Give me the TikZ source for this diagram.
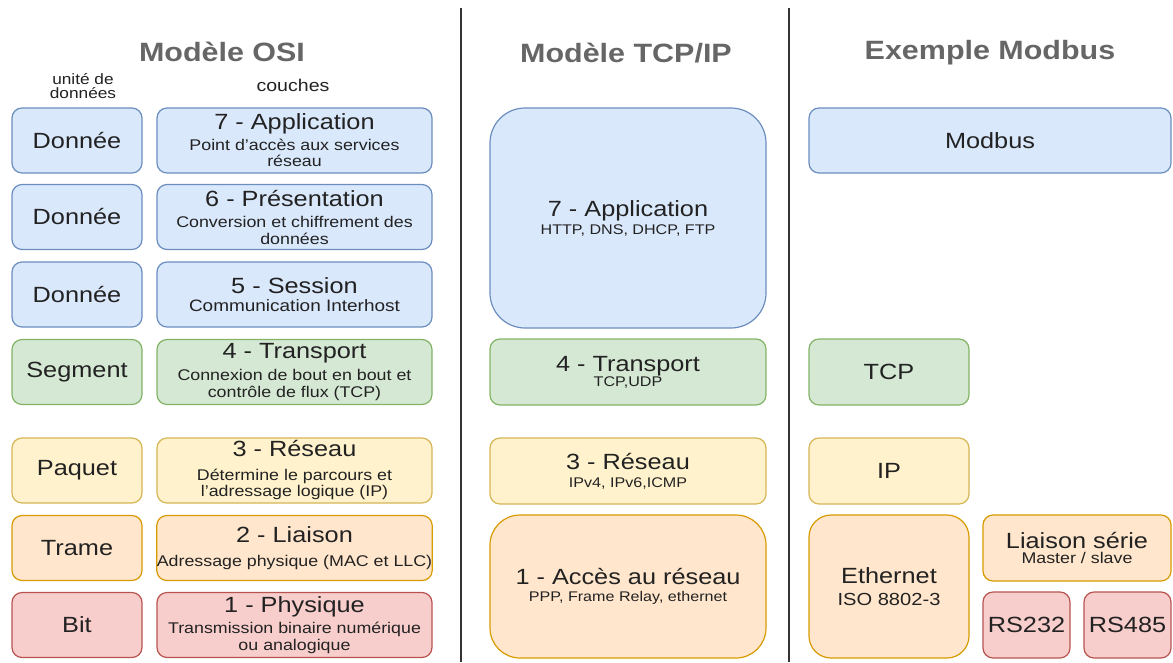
\documentclass[tikz,border=0pt]{standalone}
\usepackage{fontspec}
\setmainfont{Liberation Sans}[FakeStretch=1.15]
\definecolor{bfill}{HTML}{DAE8FC}\definecolor{bline}{HTML}{6C8EBF}
\definecolor{gfill}{HTML}{D5E8D4}\definecolor{gline}{HTML}{82B366}
\definecolor{yfill}{HTML}{FFF2CC}\definecolor{yline}{HTML}{D6B656}
\definecolor{ofill}{HTML}{FFE6CC}\definecolor{oline}{HTML}{D79B00}
\definecolor{rfill}{HTML}{F8CECC}\definecolor{rline}{HTML}{B85450}
\definecolor{txt}{HTML}{222222}\definecolor{ttl}{HTML}{666666}
\definecolor{sep}{HTML}{333333}
\newcommand\mainsz{\fontsize{22}{26}\selectfont}
\newcommand\subsz{\fontsize{15.5}{16.5}\selectfont}
\newcommand\sesssz{\fontsize{16.5}{17}\selectfont}
\newcommand\tcpsz{\fontsize{14}{16}\selectfont}
\newcommand\isosz{\fontsize{17.5}{20}\selectfont}
\newcommand\ttlsz{\fontsize{26.5}{30}\selectfont\bfseries}
\newcommand\smallsz{\fontsize{15}{14.5}\selectfont}
\newcommand\couchsz{\fontsize{17}{18}\selectfont}
\begin{document}
\begin{tikzpicture}[x=1pt,y=-1pt,
  box/.style={draw, line width=1.2pt, rounded corners=10pt, inner sep=0pt, align=center, text=txt, font=\subsz},
  cblue/.style={fill=bfill, draw=bline},
  cgreen/.style={fill=gfill, draw=gline},
  cyellow/.style={fill=yfill, draw=yline},
  corange/.style={fill=ofill, draw=oline},
  cred/.style={fill=rfill, draw=rline},
  unitbox/.style={box, minimum width=130pt, minimum height=65pt, font=\mainsz},
  laybox/.style={box, minimum width=275pt, minimum height=65pt},
  tcpbox/.style={box, minimum width=276pt, minimum height=66pt, font=\tcpsz},
  modbox/.style={box, minimum width=160pt, minimum height=66pt, font=\mainsz},
  title/.style={text=ttl, font=\ttlsz, inner sep=0pt},
  sepline/.style={draw=sep, line width=1.3pt}
]
\useasboundingbox (0,0) rectangle (1173,662);

% titles
\node[title] (tosi) at (222,52) {Modèle OSI};
\node[title] (ttcp) at (626,53) {Modèle TCP/IP};
\node[title] (tmod) at (990,53) {Exemple Modbus};
\node[text=txt, font=\smallsz, align=center, inner sep=0pt] (hunit) at (83,86) {unité de\\données};
\node[text=txt, font=\couchsz, inner sep=0pt] (hcouch) at (293,85.5) {couches};

% separators
\coordinate (s1t) at (461,8); \coordinate (s1b) at (461,662);
\coordinate (s2t) at (789,8); \coordinate (s2b) at (789,662);
\draw[sepline] (s1t) -- (s1b);
\draw[sepline] (s2t) -- (s2b);

% OSI unit boxes
\node[unitbox, cblue]   (u7) at (77,140.5) {Donnée};
\node[unitbox, cblue]   (u6) at (77,217) {Donnée};
\node[unitbox, cblue]   (u5) at (77,294.5) {Donnée};
\node[unitbox, cgreen]  (u4) at (77,372) {Segment};
\node[unitbox, cyellow] (u3) at (77,470.5) {Paquet};
\node[unitbox, corange] (u2) at (77,548) {Trame};
\node[unitbox, cred]    (u1) at (77,625) {Bit};

% OSI layers
\node[laybox, cblue]   (l7) at (294.5,140.5) {{\mainsz 7 - Application}\\[4pt]Point d'accès aux services\\réseau};
\node[laybox, cblue]   (l6) at (294.5,217) {{\mainsz 6 - Présentation}\\[5pt]Conversion et chiffrement des\\données};
\node[laybox, cblue, font=\sesssz] (l5) at (294.5,294.5) {{\mainsz 5 - Session}\\[1pt]Communication Interhost};
\node[laybox, cgreen]  (l4) at (294.5,372) {{\mainsz 4 - Transport}\\[6pt]Connexion de bout en bout et\\contrôle de flux (TCP)};
\node[laybox, cyellow] (l3) at (294.5,470.5) {{\mainsz 3 - Réseau}\\[7pt]Détermine le parcours et\\l'adressage logique (IP)};
\node[laybox, corange] (l2) at (294.5,548) {{\mainsz 2 - Liaison}\\[7pt]Adressage physique (MAC et LLC)};
\node[laybox, cred]    (l1) at (294.5,625) {{\mainsz 1 - Physique}\\[5pt]Transmission binaire numérique\\ou analogique};

% TCP/IP
\node[tcpbox, cblue, minimum height=220pt, rounded corners=35pt] (t7) at (628,218) {{\mainsz 7 - Application}\\[2pt]HTTP, DNS, DHCP, FTP};
\node[tcpbox, cgreen]  (t4) at (628,372) {{\mainsz 4 - Transport}\\[-1pt]TCP,UDP};
\node[tcpbox, cyellow] (t3) at (628,471) {{\mainsz 3 - Réseau}\\[2pt]IPv4, IPv6,ICMP};
\node[tcpbox, corange, minimum height=143pt, rounded corners=30pt] (t1) at (628,586.5) {{\mainsz 1 - Accès au réseau}\\[1pt]PPP, Frame Relay, ethernet};

% Modbus
\node[modbox, cblue, minimum width=362pt, minimum height=65pt] (mb) at (990,140.5) {Modbus};
\node[modbox, cgreen]  (mtcp) at (889,372) {TCP};
\node[modbox, cyellow] (mip) at (889,471) {IP};
\node[modbox, corange, minimum height=143pt, rounded corners=22pt] (meth) at (889,586.5) {Ethernet\\[-4pt]{\isosz ISO 8802-3}};
\node[box, corange, minimum width=188pt, minimum height=66pt] (mls) at (1077,548) {{\mainsz Liaison série}\\[-1pt]Master / slave};
\node[modbox, cred, minimum width=87pt] (rs232) at (1026.5,625) {RS232};
\node[modbox, cred, minimum width=87pt] (rs485) at (1127.5,625) {RS485};
\end{tikzpicture}
\end{document}
